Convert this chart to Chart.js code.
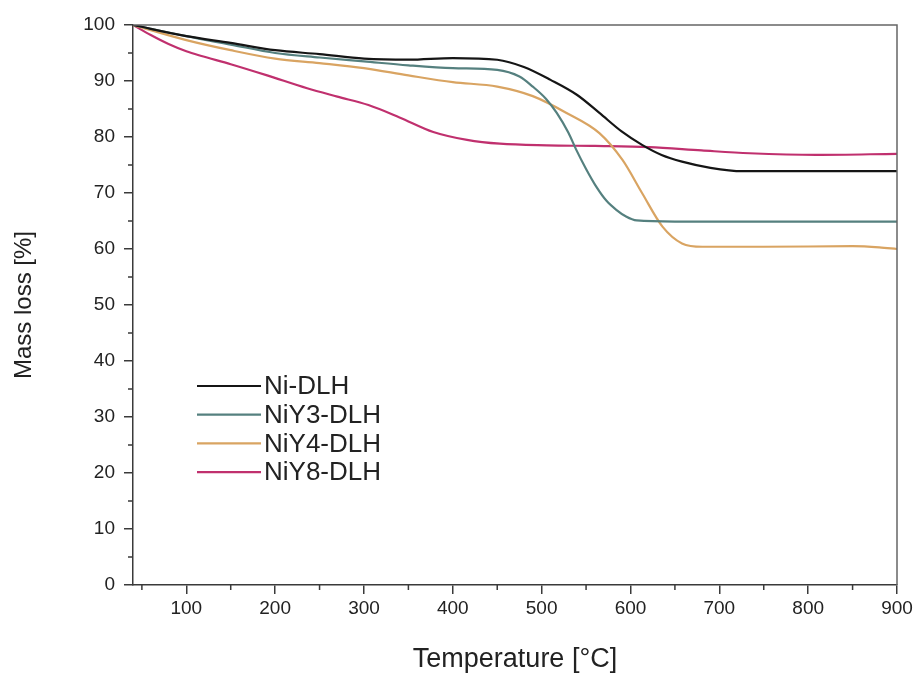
<!DOCTYPE html>
<html>
<head>
<meta charset="utf-8">
<title>TGA</title>
<script src="https://cdn.jsdelivr.net/npm/chart.js@4"></script>
<style>
  html, body { margin: 0; padding: 0; background: #fff; }
  #wrap { width: 919px; height: 677px; }
</style>
</head>
<body>
<div id="wrap"><canvas id="tga" width="919" height="677"></canvas></div>
<script>
// TGA curves: temperature (°C) vs remaining mass (%)
const seriesNames = ['Ni-DLH', 'NiY3-DLH', 'NiY4-DLH', 'NiY8-DLH'];
const seriesColors = ['#151515', '#55807f', '#d9a462', '#c0306e'];

const tempNi = [40, 100, 150, 200, 250, 300, 350, 400, 450, 480, 510, 540, 565, 590, 613, 635, 658, 690, 726, 800, 900];
const massNi = [100, 98, 96.8, 95.5, 94.8, 94, 93.8, 94.1, 93.8, 92.5, 90.2, 87.5, 84.3, 81, 78.6, 76.8, 75.6, 74.5, 73.9, 73.9, 73.9];

const tempY3 = [40, 100, 150, 200, 250, 300, 350, 400, 450, 475, 490, 505, 517, 530, 539, 550, 562, 573, 584, 595, 607, 650, 900];
const massY3 = [100, 98, 96.5, 95, 94.2, 93.5, 92.8, 92.3, 92, 90.8, 89, 86.8, 84.3, 80.8, 77.7, 74.3, 71, 68.6, 67, 65.8, 65.1, 64.9, 64.9];

const tempY4 = [40, 100, 150, 200, 250, 300, 350, 400, 450, 490, 528, 565, 591, 613, 636, 658, 681, 750, 850, 880, 900];
const massY4 = [100, 97.3, 95.5, 94, 93.2, 92.3, 91, 89.8, 89, 87.3, 84.3, 80.7, 75.9, 70, 64, 61, 60.4, 60.4, 60.5, 60.3, 60];

const tempY8 = [40, 60, 80, 100, 116, 150, 191, 236, 270, 305, 340, 378, 416, 453, 506, 560, 621, 680, 734, 809, 900];
const massY8 = [100, 98.2, 96.6, 95.3, 94.5, 93, 91, 88.7, 87.2, 85.7, 83.5, 80.9, 79.5, 78.8, 78.5, 78.4, 78.2, 77.6, 77.1, 76.8, 77];

const xTicks = [100, 200, 300, 400, 500, 600, 700, 800, 900];
const xMinor = [50, 150, 250, 350, 450, 550, 650, 750, 850];
const yTicks = [0, 10, 20, 30, 40, 50, 60, 70, 80, 90, 100];
const yMinor = [5, 15, 25, 35, 45, 55, 65, 75, 85, 95];

const temps = [tempNi, tempY3, tempY4, tempY8];
const masses = [massNi, massY3, massY4, massY8];

const FONT = '"Liberation Sans", Arial, Helvetica, sans-serif';

// minor ticks, top/right frame and the in-plot legend
const framePlugin = {
  id: 'frame',
  afterDraw(chart) {
    const { ctx, chartArea: a, scales } = chart;
    ctx.save();
    ctx.strokeStyle = '#3a3a3a';
    ctx.lineWidth = 1.5;
    ctx.beginPath();
    xMinor.forEach(v => {
      const px = scales.x.getPixelForValue(v);
      ctx.moveTo(px, a.bottom);
      ctx.lineTo(px, a.bottom + 5);
    });
    yMinor.forEach(v => {
      const py = scales.y.getPixelForValue(v);
      ctx.moveTo(a.left, py);
      ctx.lineTo(a.left - 5, py);
    });
    ctx.stroke();

    ctx.strokeStyle = '#666';
    ctx.lineWidth = 1.5;
    ctx.beginPath();
    ctx.moveTo(a.left, a.top);
    ctx.lineTo(a.right, a.top);
    ctx.lineTo(a.right, a.bottom);
    ctx.stroke();

    // legend
    const lx = 197, ly = 386, gap = 28.7;
    ctx.font = '26px ' + FONT;
    ctx.textBaseline = 'middle';
    ctx.fillStyle = '#222';
    chart.data.datasets.forEach((ds, i) => {
      const y = ly + i * gap;
      ctx.strokeStyle = ds.borderColor;
      ctx.lineWidth = 2.2;
      ctx.beginPath();
      ctx.moveTo(lx, y);
      ctx.lineTo(lx + 64, y);
      ctx.stroke();
      ctx.fillText(ds.label, lx + 67, y + 1);
    });
    ctx.restore();
  }
};

new Chart(document.getElementById('tga'), {
  type: 'line',
  data: {
    datasets: seriesNames.map((name, i) => ({
      label: name,
      data: temps[i].map((t, k) => ({ x: t, y: masses[i][k] })),
      borderColor: seriesColors[i],
      borderWidth: 2.2,
      pointRadius: 0,
      fill: false,
      cubicInterpolationMode: 'monotone'
    }))
  },
  options: {
    responsive: false,
    animation: false,
    layout: { padding: { top: 25, right: 22, left: 0, bottom: 0 } },
    plugins: { legend: { display: false }, tooltip: { enabled: false } },
    scales: {
      x: {
        type: 'linear',
        min: 40,
        max: 900,
        afterBuildTicks: s => { s.ticks = xTicks.map(v => ({ value: v })); },
        afterFit: s => { s.height = 92; },
        grid: { drawOnChartArea: false, tickLength: 9, color: '#3a3a3a', lineWidth: 1.5 },
        border: { color: '#3a3a3a', width: 1.5 },
        ticks: { color: '#222', font: { family: FONT, size: 19 }, padding: 3, maxRotation: 0 },
        title: { display: true, text: 'Temperature [°C]', color: '#222', font: { family: FONT, size: 27 }, padding: { top: 0, bottom: 1 } }
      },
      y: {
        min: 0,
        max: 100,
        afterBuildTicks: s => { s.ticks = yTicks.map(v => ({ value: v })); },
        afterFit: s => { s.width = 133; },
        grid: { drawOnChartArea: false, tickLength: 9, color: '#3a3a3a', lineWidth: 1.5 },
        border: { color: '#3a3a3a', width: 1.5 },
        ticks: { color: '#222', font: { family: FONT, size: 19 }, padding: 9 },
        title: { display: true, text: 'Mass loss [%]', color: '#222', font: { family: FONT, size: 24 }, padding: { top: 10, bottom: 0 } }
      }
    }
  },
  plugins: [framePlugin]
});
</script>
</body>
</html>
